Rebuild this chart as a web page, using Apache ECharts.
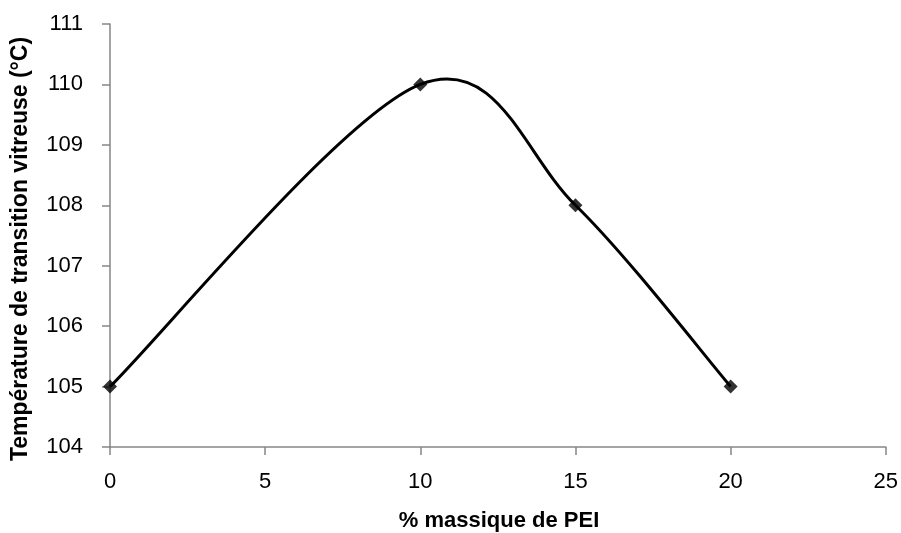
<!DOCTYPE html>
<html><head><meta charset="utf-8">
<script src="https://cdn.jsdelivr.net/npm/echarts@6/dist/echarts.min.js"></script>
<style>html,body{margin:0;padding:0;background:#fff}#c{width:901px;height:533px}</style>
</head><body><div id="c"></div>
<script>
const xValues = [0, 10, 15, 20];
const yValues = [105, 110, 108, 105];
const xTitle = '% massique de PEI';
const yTitle = 'Température de transition vitreuse (°C)';
const font = 'Liberation Sans, Arial, sans-serif';
const chart = echarts.init(document.getElementById('c'));
const pts = xValues.map((x, i) => [x, yValues[i]]);
chart.setOption({
  animation: false,
  grid: {left: 110, right: 13, top: 24, bottom: 86},
  xAxis: {type: 'value', min: 0, max: 25, interval: 5,
    axisLine: {show: true, lineStyle: {color: '#868686', width: 1.5}},
    axisTick: {show: true, length: 8, lineStyle: {color: '#868686', width: 1.5}},
    splitLine: {show: false},
    axisLabel: {color: '#000', fontSize: 22, fontFamily: font, margin: 24}},
  yAxis: {type: 'value', min: 104, max: 111, interval: 1,
    axisLine: {show: true, lineStyle: {color: '#868686', width: 1.5}},
    axisTick: {show: true, length: 8, lineStyle: {color: '#868686', width: 1.5}},
    splitLine: {show: false},
    axisLabel: {color: '#000', fontSize: 22, fontFamily: font, margin: 27}},
  graphic: [
    {type: 'text', x: 499, y: 521, style: {text: xTitle, fontSize: 22, fontWeight: 'bold', fontFamily: font, fill: '#000', textAlign: 'center', textVerticalAlign: 'middle'}},
    {type: 'text', x: 21, y: 249, rotation: Math.PI / 2, style: {text: yTitle, fontSize: 23, fontWeight: 'bold', fontFamily: font, fill: '#000', textAlign: 'center', textVerticalAlign: 'middle'}}
  ],
  series: [
    {type: 'custom', data: pts, z: 2,
      renderItem: function (params, api) {
        const i = params.dataIndex;
        if (i >= pts.length - 1) return null;
        const P = k => api.coord(pts[Math.max(0, Math.min(pts.length - 1, k))]);
        const p0 = P(i - 1), p1 = P(i), p2 = P(i + 1), p3 = P(i + 2);
        const c1 = [p1[0] + (p2[0] - p0[0]) / 6, p1[1] + (p2[1] - p0[1]) / 6];
        const c2 = [p2[0] - (p3[0] - p1[0]) / 6, p2[1] - (p3[1] - p1[1]) / 6];
        return {type: 'bezierCurve', shape: {x1: p1[0], y1: p1[1], x2: p2[0], y2: p2[1], cpx1: c1[0], cpy1: c1[1], cpx2: c2[0], cpy2: c2[1]},
          style: {stroke: '#000', lineWidth: 3, fill: null}};
      }},
    {type: 'scatter', data: pts, z: 3, symbol: 'diamond', symbolSize: 14, itemStyle: {color: '#000'}}
  ]
});
</script></body></html>
